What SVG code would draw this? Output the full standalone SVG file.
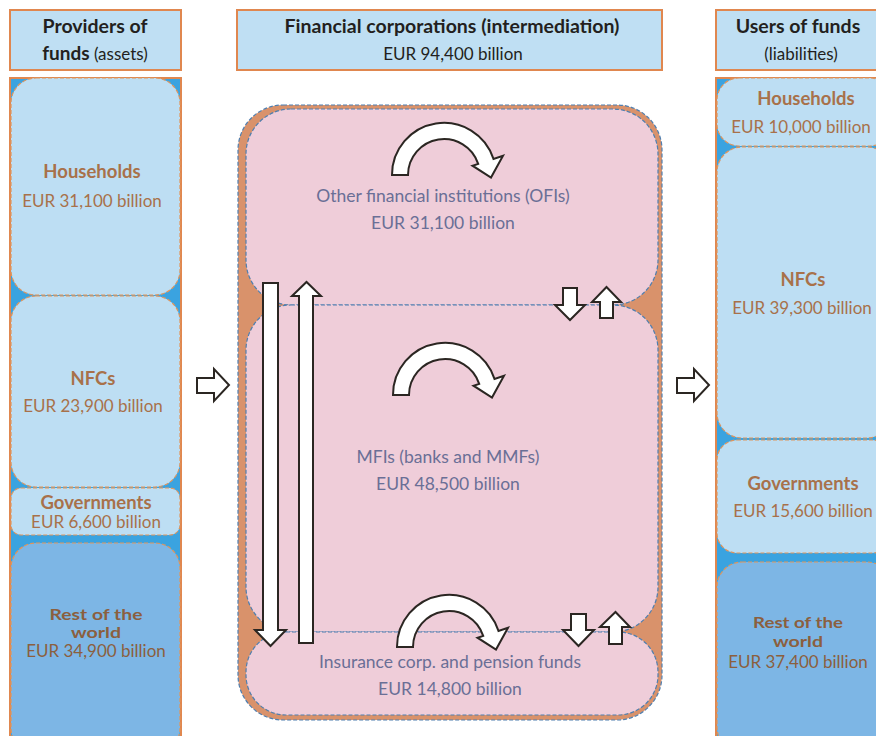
<svg xmlns="http://www.w3.org/2000/svg" xmlns:xlink="http://www.w3.org/1999/xlink" width="876" height="736" viewBox="0 0 876 736">
<style>
text{font-family:Lato,"Open Sans","Liberation Sans",sans-serif;text-anchor:middle}
.hdr{fill:#bfdff3;stroke:#e0874f;stroke-width:2}
.col{fill:#3aa3e0;stroke:#e0874f;stroke-width:2}
.lb{fill:#bddef3;stroke:#e0955c;stroke-width:1.2;stroke-dasharray:4 2}
.rw{fill:#7db6e5;stroke:#e0955c;stroke-width:1.2;stroke-dasharray:4 2}
.outer{fill:#d9926b;stroke:#4f7fb0;stroke-width:1.2;stroke-dasharray:4 2}
.pk{fill:#efcdd9;stroke:#4f7fb0;stroke-width:1.2;stroke-dasharray:4 2}
.ht{font-size:19.5px;font-weight:700;fill:#231f20}
.hs{font-size:17px;fill:#231f20}
.nt{font-size:18.5px;font-weight:700;fill:#a8714a}
.nv{font-size:17px;fill:#a8714a}
.rt{font-size:15.5px;font-weight:700;fill:#8b5f3e}
.rv{font-size:17px;fill:#8b5f3e}
.mt{font-size:17.5px;fill:#6a6f96}
.arr{fill:#fff;stroke:#2b2622;stroke-width:2;stroke-linejoin:miter}
</style>
<defs>
<path id="curv" d="M -52,0 A 52 52 0 0 1 49.5,-16.1 L 59,-19.2 L 47,2.6 L 28.5,-9.3 L 34.2,-11.1 A 36 36 0 0 0 -36,0 Z"/>
</defs>

<g id="hdr-providers">
<rect class="hdr" x="10" y="10" width="171" height="60"/>
<text class="ht" x="95" y="33">Providers of</text>
<text class="hs" x="95" y="60"><tspan font-weight="700" font-size="19px">funds</tspan> (assets)</text>
</g>
<g id="hdr-financial">
<rect class="hdr" x="237" y="10" width="425" height="60"/>
<text class="ht" x="452" y="33">Financial corporations (intermediation)</text>
<text class="hs" x="453" y="60">EUR 94,400 billion</text>
</g>
<g id="hdr-users">
<rect class="hdr" x="716" y="10" width="180" height="60"/>
<text class="ht" x="798" y="33">Users of funds</text>
<text class="hs" x="801" y="60">(liabilities)</text>
</g>

<g id="providers-column">
<rect class="col" x="10" y="78" width="171" height="670"/>
</g>
<g id="prov-households">
<rect class="lb" x="11" y="78" width="169" height="217" rx="25"/>
<text class="nt" x="92" y="178">Households</text>
<text class="nv" x="92" y="207">EUR 31,100 billion</text>
</g>
<g id="prov-nfcs">
<rect class="lb" x="11" y="296" width="169" height="191" rx="25"/>
<text class="nt" x="93" y="385">NFCs</text>
<text class="nv" x="93" y="412">EUR 23,900 billion</text>
</g>
<g id="prov-governments">
<rect class="lb" x="11" y="488" width="169" height="47" rx="10"/>
<text class="nt" x="96" y="509">Governments</text>
<text class="nv" x="96" y="528">EUR 6,600 billion</text>
</g>
<g id="prov-rest">
<rect class="rw" x="11" y="543" width="169" height="210" rx="25"/>
<text class="rt" x="96" y="620" textLength="93" lengthAdjust="spacingAndGlyphs">Rest of the</text>
<text class="rt" x="96" y="638" textLength="50" lengthAdjust="spacingAndGlyphs">world</text>
<text class="rv" x="96" y="657">EUR 34,900 billion</text>
</g>

<g id="users-column">
<rect class="col" x="716" y="78" width="180" height="670"/>
</g>
<g id="user-households">
<rect class="lb" x="717" y="78" width="175" height="68" rx="22"/>
<text class="nt" x="806" y="105">Households</text>
<text class="nv" x="801" y="133">EUR 10,000 billion</text>
</g>
<g id="user-nfcs">
<rect class="lb" x="717" y="147" width="175" height="291" rx="25"/>
<text class="nt" x="803" y="286">NFCs</text>
<text class="nv" x="802" y="314">EUR 39,300 billion</text>
</g>
<g id="user-governments">
<rect class="lb" x="717" y="440" width="175" height="113" rx="20"/>
<text class="nt" x="803" y="490">Governments</text>
<text class="nv" x="803" y="517">EUR 15,600 billion</text>
</g>
<g id="user-rest">
<rect class="rw" x="717" y="562" width="175" height="190" rx="25"/>
<text class="rt" x="798" y="628" textLength="90" lengthAdjust="spacingAndGlyphs">Rest of the</text>
<text class="rt" x="798" y="647" textLength="50" lengthAdjust="spacingAndGlyphs">world</text>
<text class="rv" x="798" y="668">EUR 37,400 billion</text>
</g>

<g id="financial-corporations">
<rect class="outer" x="238" y="105" width="424" height="615" rx="45"/>
</g>
<g id="ofis">
<rect class="pk" x="246" y="109" width="412" height="196" rx="45"/>
<text class="mt" x="443" y="202">Other financial institutions (OFIs)</text>
<text class="mt" x="443" y="229">EUR 31,100 billion</text>
</g>
<g id="mfis">
<rect class="pk" x="246" y="305" width="412" height="327" rx="45"/>
<text class="mt" x="448" y="463">MFIs (banks and MMFs)</text>
<text class="mt" x="448" y="490">EUR 48,500 billion</text>
</g>
<g id="insurance">
<rect class="pk" x="246" y="632" width="412" height="83" rx="40"/>
<text class="mt" x="450" y="668">Insurance corp. and pension funds</text>
<text class="mt" x="450" y="695">EUR 14,800 billion</text>
</g>

<g id="connectors">
<use href="#curv" class="arr" transform="translate(444,175)"/>
<use href="#curv" class="arr" transform="translate(445,395)"/>
<use href="#curv" class="arr" transform="translate(449,647)"/>
<polygon class="arr" points="263,283 278,283 278,630 286,630 270.5,646 255,630 263,630"/>
<polygon class="arr" points="299,643 313,643 313,296 321,296 306.5,282 292,296 299,296"/>
<polygon class="arr" points="563,288 577,288 577,305 585,305 570,320 555,305 563,305"/>
<polygon class="arr" points="600,318 613,318 613,302 621,302 606.5,287 592,302 600,302"/>
<polygon class="arr" points="571,614 586,614 586,630 594,630 578.5,646 563,630 571,630"/>
<polygon class="arr" points="609,644 622,644 622,627 630,627 615.5,612 600,627 609,627"/>
<polygon class="arr" points="197,378 214,378 214,369 229,385 214,401 214,393 197,393"/>
<polygon class="arr" points="677,378 694,378 694,369 709,385 694,401 694,393 677,393"/>
</g>
</svg>
